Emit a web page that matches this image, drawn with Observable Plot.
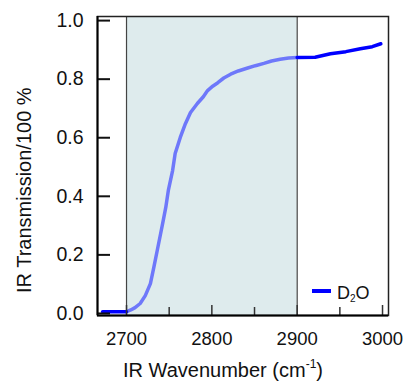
<!DOCTYPE html>
<html><head><meta charset="utf-8">
<script src="https://cdn.jsdelivr.net/npm/d3@7"></script>
<script src="https://cdn.jsdelivr.net/npm/@observablehq/plot@0.6"></script>
<style>body{margin:0;background:#fff} svg{display:block}</style>
</head><body><div id="chart"></div>
<script>
// ---- data ----
const leftX = [2672, 2700];
const leftY = [0.006, 0.006];
const midX = [2700, 2705, 2710, 2716, 2722, 2728, 2732, 2736, 2740, 2743, 2746, 2749, 2754, 2757, 2763, 2769, 2775, 2783, 2790, 2795, 2801, 2807, 2814, 2822, 2831, 2842, 2851, 2861, 2870, 2880, 2890, 2900];
const midY = [0.006, 0.012, 0.020, 0.034, 0.061, 0.102, 0.157, 0.215, 0.273, 0.317, 0.362, 0.420, 0.488, 0.546, 0.601, 0.648, 0.686, 0.717, 0.740, 0.761, 0.776, 0.788, 0.804, 0.817, 0.828, 0.838, 0.846, 0.854, 0.862, 0.868, 0.872, 0.874];
const rightX = [2900, 2921, 2939, 2957, 2974, 2988, 2998];
const rightY = [0.874, 0.875, 0.887, 0.894, 0.904, 0.911, 0.921];
const shade = [2700, 2900];
const xMajor = [2700, 2800, 2900, 3000];
const xMinor = [2750, 2850, 2950];
const yTicks = [0, 0.2, 0.4, 0.6, 0.8, 1.0];
const xDomain = [2666, 3007];
const yDomain = [-0.007, 1.014];
const seriesLabel = ["D", "2", "O"];
const xTitle = ["IR Wavenumber (cm", "-1", ")"];
const yTitle = "IR Transmission/100 %";

// ---- layout ----
const W = 403, H = 381, mL = 97, mR = 15, mT = 16, mB = 66;
const fw = W - mL - mR, fh = H - mT - mB;
const font = "'Liberation Sans', Arial, Helvetica, sans-serif";
const rows = (xs, ys) => xs.map((x, i) => ({x, y: ys[i]}));

const plot = Plot.plot({
  width: W, height: H,
  marginLeft: mL, marginRight: mR, marginTop: mT, marginBottom: mB,
  x: {domain: xDomain},
  y: {domain: yDomain},
  style: {fontFamily: font, fontSize: "19px", color: "#111", background: "#fff", overflow: "visible"},
  marks: [
    Plot.rect([shade], {x1: d => d[0], x2: d => d[1], fill: "#deebed"}),
    Plot.ruleX(shade, {x: d => d, stroke: "#444", strokeWidth: 1.2}),
    Plot.line(rows(midX, midY), {x: "x", y: "y", stroke: "#6e78fa", strokeWidth: 3.5}),
    Plot.line(rows(leftX, leftY), {x: "x", y: "y", stroke: "#0000ff", strokeWidth: 3.5}),
    Plot.line(rows(rightX, rightY), {x: "x", y: "y", stroke: "#0000ff", strokeWidth: 3.5}),
    Plot.tickX(xMajor, {x: d => d, insetTop: fh - 10, stroke: "#333", strokeWidth: 1.5}),
    Plot.tickX(xMinor, {x: d => d, insetTop: fh - 8, stroke: "#333", strokeWidth: 1.5}),
    Plot.tickY(yTicks, {y: d => d, insetRight: fw - 13, stroke: "#111", strokeWidth: 2}),
    Plot.axisX(xMajor, {tickSize: 0, tickPadding: 16, tickFormat: d => String(d), label: null, fontSize: 18.5}),
    Plot.axisY(yTicks, {tickSize: 0, tickPadding: 14, tickFormat: d3.format(".1f"), label: null, fontSize: 19.5}),
    Plot.frame({stroke: "#222", strokeWidth: 1.5}),
    Plot.ruleX([xDomain[0]], {stroke: "#000", strokeWidth: 2}),
    Plot.ruleY([yDomain[0]], {stroke: "#000", strokeWidth: 2})
  ]
});
document.getElementById("chart").appendChild(plot);

const svg = d3.select(plot);
const txt = (sel, size) => sel.style("font-family", font).style("font-size", size + "px")
  .attr("text-anchor", "start").style("text-anchor", "start").attr("fill", "#111");
// x title
const xt = txt(svg.append("text").attr("x", 123).attr("y", 377), 20);
xt.append("tspan").text(xTitle[0]);
xt.append("tspan").style("font-size", "12px").attr("dy", -9).text(xTitle[1]);
xt.append("tspan").attr("dy", 9).text(xTitle[2]);
// y title
txt(svg.append("text").attr("transform", "translate(31,293) rotate(-90)"), 20).text(yTitle);
// legend
svg.append("line").attr("x1", 312).attr("x2", 331).attr("y1", 291).attr("y2", 291)
  .attr("stroke", "#0000ff").attr("stroke-width", 4);
const lt = txt(svg.append("text").attr("x", 337).attr("y", 299), 18);
lt.append("tspan").text(seriesLabel[0]);
lt.append("tspan").style("font-size", "10px").attr("dy", 3).text(seriesLabel[1]);
lt.append("tspan").attr("dy", -3).text(seriesLabel[2]);
</script>
</body></html>
